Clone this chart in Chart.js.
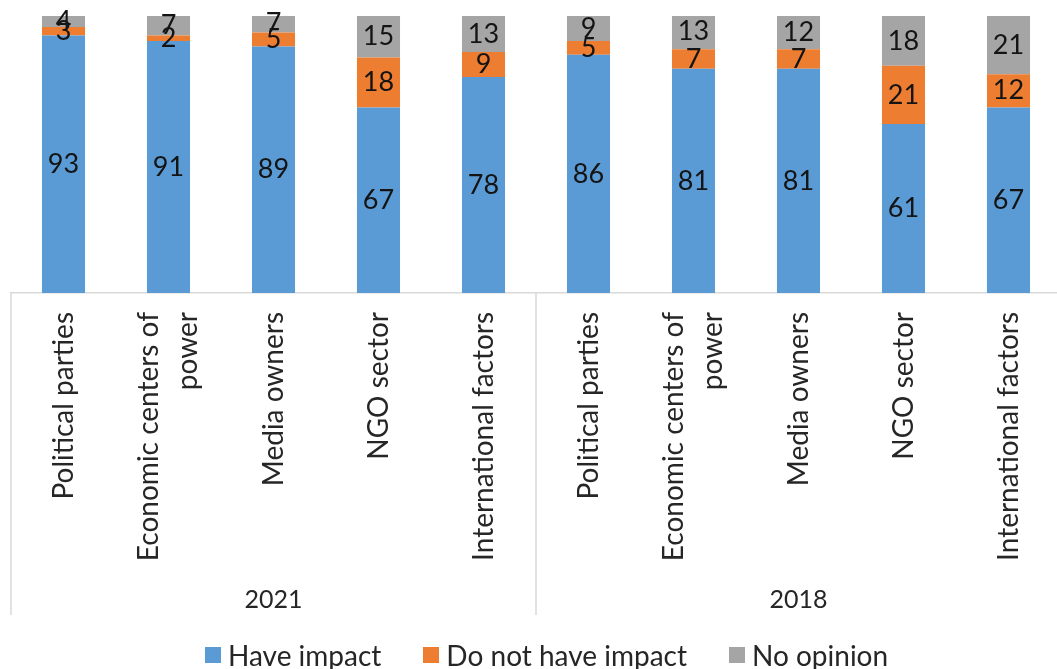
<!DOCTYPE html>
<html>
<head>
<meta charset="utf-8">
<script src="https://cdn.jsdelivr.net/npm/chart.js@4/dist/chart.umd.min.js"></script>
<style>
  body { margin: 0; background: #fff; overflow: hidden; }
  #wrap { position: relative; width: 1062px; height: 669px; }
  #legend {
    position: absolute; left: 205px; top: 640px; height: 30px;
    display: flex; align-items: center;
    font: 28px Lato, sans-serif; color: #262626;
  }
  .item { display: flex; align-items: center; margin-right: 42px; }
  .box { width: 16px; height: 16px; margin-right: 7px; }
</style>
</head>
<body>
<div id="wrap">
  <canvas id="chart"></canvas>
  <div id="legend"></div>
</div>
<script>
const years = ["2021", "2018"];
const actors = [
  "Political parties",
  ["Economic centers of", "power"],
  "Media owners",
  "NGO sector",
  "International factors"
];
const categories = years.flatMap(() => actors);

const haveImpact   = [93, 91, 89, 67, 78, 86, 81, 81, 61, 67];
const noImpact     = [3, 2, 5, 18, 9, 5, 7, 7, 21, 12];
const noOpinion    = [4, 7, 7, 15, 13, 9, 13, 12, 18, 21];

const seriesNames  = ["Have impact", "Do not have impact", "No opinion"];
const seriesColors = ["#5B9BD5", "#ED7D31", "#A5A5A5"];

// numbers in the middle of each stacked segment
const valueLabels = {
  id: "valueLabels",
  afterDatasetsDraw(chart) {
    const ctx = chart.ctx;
    ctx.save();
    ctx.font = "27px Lato";
    ctx.fillStyle = "#141414";
    ctx.textAlign = "center";
    ctx.textBaseline = "middle";
    chart.data.datasets.forEach((ds, i) => {
      chart.getDatasetMeta(i).data.forEach((bar, j) => {
        const p = bar.getProps(["x", "y", "base"], true);
        ctx.fillText(ds.data[j], p.x, (p.y + p.base) / 2);
      });
    });
    ctx.restore();
  }
};

// two-line tick labels: center both lines on the tick instead of hanging right
const centerWrapped = {
  id: "centerWrapped",
  beforeDraw(chart) {
    chart.scales.x.getLabelItems().forEach(item => {
      if (Array.isArray(item.label) && !item.centered) {
        item.textOffset -= item.font.lineHeight * (item.label.length - 1) / 2;
        item.centered = true;
      }
    });
  }
};

// vertical separators between the year groups
const groupLines = {
  id: "groupLines",
  afterDraw(chart) {
    const x = chart.scales.x;
    const x2 = chart.scales.x2;
    const step = (x.right - x.left) / categories.length;
    const ctx = chart.ctx;
    ctx.save();
    ctx.strokeStyle = "#d9d9d9";
    ctx.lineWidth = 1.5;
    for (let g = 0; g <= years.length; g++) {
      const px = x.left + g * actors.length * step;
      ctx.beginPath();
      ctx.moveTo(px, chart.chartArea.bottom);
      ctx.lineTo(px, x2.bottom);
      ctx.stroke();
    }
    ctx.restore();
  }
};

new Chart(document.getElementById("chart"), {
  type: "bar",
  data: {
    labels: categories,
    datasets: [haveImpact, noImpact, noOpinion].map((d, i) => ({
      label: seriesNames[i],
      data: d,
      backgroundColor: seriesColors[i],
      barPercentage: 0.41,
      categoryPercentage: 1
    }))
  },
  options: {
    responsive: true,
    maintainAspectRatio: false,
    animation: false,
    layout: { padding: { left: 11, right: 1, top: 16, bottom: 54 } },
    plugins: {
      legend: { display: false },
      tooltip: { enabled: false }
    },
    scales: {
      y: { display: false, stacked: true, min: 0, max: 100 },
      x: {
        stacked: true,
        weight: 0,
        grid: { display: false },
        border: { display: true, color: "#d9d9d9", width: 1.5 },
        ticks: {
          autoSkip: false,
          maxRotation: 90,
          minRotation: 90,
          padding: 11,
          color: "#262626",
          font: { family: "Lato", size: 28, lineHeight: 1.4 }
        },
        afterFit: s => { s.height = 280; }
      },
      x2: {
        type: "category",
        position: "bottom",
        weight: 1,
        labels: years,
        offset: true,
        grid: { display: false },
        border: { display: false },
        ticks: {
          padding: 4,
          color: "#262626",
          font: { family: "Lato", size: 25 }
        },
        afterFit: s => { s.height = 42; }
      }
    }
  },
  plugins: [centerWrapped, valueLabels, groupLines]
});

// legend built from the series lists
const legend = document.getElementById("legend");
seriesNames.forEach((name, i) => {
  const item = document.createElement("div");
  item.className = "item";
  const box = document.createElement("span");
  box.className = "box";
  box.style.background = seriesColors[i];
  const txt = document.createElement("span");
  txt.textContent = name;
  item.append(box, txt);
  legend.append(item);
});
</script>
</body>
</html>
